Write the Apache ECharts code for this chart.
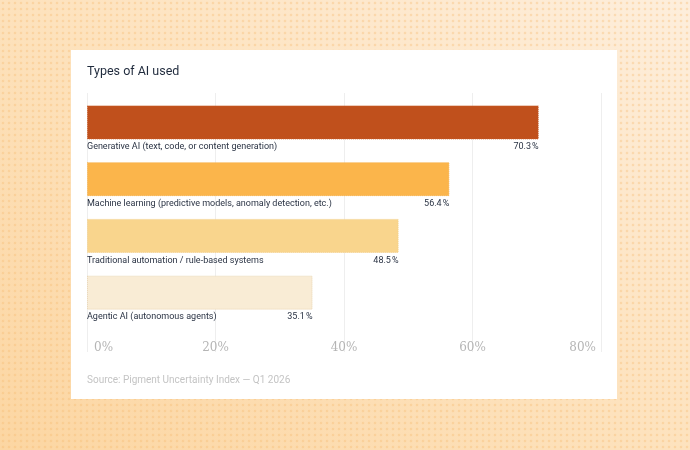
<!DOCTYPE html>
<html>
<head>
<meta charset="utf-8">
<script src="https://cdn.jsdelivr.net/npm/echarts@6/dist/echarts.min.js"></script>
<style>
  html, body { margin: 0; padding: 0; }
  body {
    width: 690px; height: 450px; position: relative; overflow: hidden;
    background:
      radial-gradient(circle, rgba(245, 185, 110, 0.35) 1px, transparent 1.7px) 0 0 / 6px 6px,
      linear-gradient(35deg, #fcd6a2 0%, #fde2bd 50%, #fdeedc 100%);
  }
  #card { position: absolute; left: 71px; top: 50px; width: 546px; height: 349px; background: #fff; }
  #chart { position: absolute; left: 0; top: 0; width: 690px; height: 450px; }
</style>
</head>
<body>
<div id="card"></div>
<div id="chart"></div>
<script>
// data
var categories = [
  "Generative AI (text, code, or content generation)",
  "Machine learning (predictive models, anomaly detection, etc.)",
  "Traditional automation / rule-based systems",
  "Agentic AI (autonomous agents)"
];
var values = [70.3, 56.4, 48.5, 35.1];
var barColors = ["#c0501c", "#fbb54b", "#f9d58d", "#f9ecd5"];
var borderColors = ["#c75a26", "#f5b04a", "#f2cf88", "#e9d6b2"];
var axisTicks = [0, 20, 40, 60, 80];

var font = "Roboto, 'Noto Sans', sans-serif";
var tickFont = "'DejaVu Serif', serif";

var chart = echarts.init(document.getElementById("chart"));
chart.setOption({
  backgroundColor: "transparent",
  textStyle: { fontFamily: font },
  title: [
    {
      text: "Types of AI used",
      left: 87, top: 65, padding: 0,
      textStyle: { fontSize: 12.5, fontWeight: "normal", color: "#1f2a3c", fontFamily: font }
    },
    {
      text: "Source: Pigment Uncertainty Index \u2014 Q1 2026",
      left: 87, top: 375, padding: 0,
      textStyle: { fontSize: 10, fontWeight: "normal", color: "#c4c4c4", fontFamily: font }
    }
  ],
  grid: [
    { left: 87, right: 89, top: 94, height: 227 }, // bars
    { left: 87, right: 89, top: 93, bottom: 98 }   // split lines + tick labels
  ],
  xAxis: [
    { gridIndex: 0, type: "value", min: 0, max: 80, show: false },
    {
      gridIndex: 1, type: "value", min: 0, max: 80, interval: 20,
      axisLine: { show: false },
      axisTick: { show: false },
      splitLine: { show: true, lineStyle: { color: "#eeeeee", width: 1 } },
      axisLabel: {
        inside: true, margin: -2,
        color: "#b5b5b5", fontSize: 12, fontFamily: tickFont,
        alignMinLabel: "left", alignMaxLabel: "right",
        formatter: function (v) {
          if (v === axisTicks[0]) return "{first|" + v + "%}";
          if (v === axisTicks[axisTicks.length - 1]) return "{last|" + v + "%}";
          return v + "%";
        },
        rich: {
          first: { padding: [0, 0, 0, 7], color: "#b5b5b5", fontSize: 12, fontFamily: tickFont },
          last: { padding: [0, 5, 0, 0], color: "#b5b5b5", fontSize: 12, fontFamily: tickFont }
        }
      }
    }
  ],
  yAxis: [
    { gridIndex: 0, type: "category", data: categories, inverse: true, show: false },
    { gridIndex: 1, type: "value", min: 0, max: 1, show: false }
  ],
  series: [
    {
      type: "bar",
      xAxisIndex: 0, yAxisIndex: 0,
      barWidth: 34,
      data: values.map(function (v, i) {
        return {
          value: v,
          itemStyle: { color: barColors[i], borderColor: borderColors[i], borderWidth: 1, borderType: "dotted" }
        };
      }),
      label: {
        show: true,
        position: [0, 37],
        align: "left", verticalAlign: "top",
        fontSize: 9, color: "#2a3344", fontFamily: font,
        formatter: function (p) { return categories[p.dataIndex]; }
      },
      silent: true
    },
    {
      type: "bar",
      xAxisIndex: 0, yAxisIndex: 0,
      barWidth: 34, barGap: "-100%",
      itemStyle: { color: "transparent" },
      data: values,
      label: {
        show: true,
        position: ["100%", 37],
        align: "right", verticalAlign: "top",
        fontSize: 9, color: "#2a3344", fontFamily: font,
        formatter: function (p) { return p.value + "\u202f%"; }
      },
      silent: true
    }
  ]
});
</script>
</body>
</html>
